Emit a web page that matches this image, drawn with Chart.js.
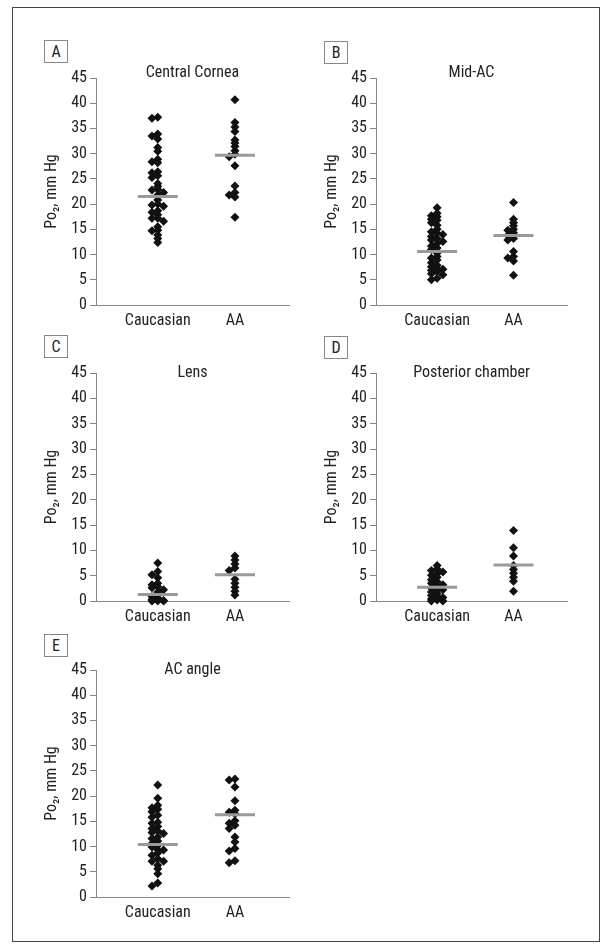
<!DOCTYPE html>
<html>
<head>
<meta charset="utf-8">
<script src="https://cdn.jsdelivr.net/npm/chart.js@4.4.0/dist/chart.umd.min.js"></script>
<style>
  body { margin:0; background:#fff; width:607px; height:950px; position:relative; overflow:hidden; }
  .frame { position:absolute; left:12px; top:7px; width:586px; height:933px; border:1.5px solid #444; }
  .panel { position:absolute; }
  .tag { position:absolute; width:22px; height:21px; border:1px solid #888; color:#222;
         font:16px 'Roboto Condensed',sans-serif; text-align:center; line-height:22px; }
</style>
</head>
<body>
<div class="frame"></div>

<div class="tag" style="left:44px;top:40px">A</div>
<div class="tag" style="left:324px;top:41px">B</div>
<div class="tag" style="left:44px;top:335px">C</div>
<div class="tag" style="left:324px;top:336px">D</div>
<div class="tag" style="left:44px;top:634px">E</div>

<canvas id="chartA" class="panel" width="296" height="287" style="left:16px;top:53px"></canvas>
<canvas id="chartB" class="panel" width="294" height="287" style="left:296px;top:53px"></canvas>
<canvas id="chartC" class="panel" width="296" height="288" style="left:16px;top:348px"></canvas>
<canvas id="chartD" class="panel" width="294" height="288" style="left:296px;top:348px"></canvas>
<canvas id="chartE" class="panel" width="296" height="287" style="left:16px;top:645px"></canvas>

<script>
const FONT = "'Roboto Condensed',sans-serif";
const TEXT = '#222';
const AXIS = '#888';

// groups on the x axis
const categories = ['Caucasian', 'AA'];
const yMax = 45;
const yStep = 5;

// Central Cornea
const caucA = [37.2, 37.0, 33.9, 33.5, 32.9, 31.2, 30.5, 28.9, 28.4, 28.2, 26.4, 26.2, 25.6, 25.3, 24.1, 23.5, 22.9, 22.8,
               22.3, 21.8, 20.8, 20.0, 19.8, 19.6, 18.7, 18.4, 17.9, 17.2, 17.2, 16.6, 15.5, 14.8, 14.7, 13.9, 13.2, 12.4];
const aaA = [40.7, 36.2, 35.3, 34.4, 32.7, 32.1, 31.4, 30.6, 29.9, 29.4, 27.6, 23.6, 22.3, 21.8, 21.4, 17.4];
const meanA = [21.5, 29.7];

// Mid-AC
const caucB = [19.3, 18.2, 17.7, 17.5, 17.0, 16.8, 16.3, 15.8, 15.0, 14.5, 14.2, 14.0, 13.6, 13.2, 12.9, 12.6, 12.2, 11.7,
               11.3, 11.0, 10.3, 9.6, 9.3, 8.9, 8.4, 7.9, 7.6, 7.3, 7.1, 6.9, 6.6, 6.2, 6.0, 5.3, 5.0];
const aaB = [20.3, 17.0, 16.3, 15.7, 15.0, 14.8, 14.3, 13.8, 13.2, 12.9, 10.6, 9.6, 9.3, 8.7, 5.9];
const meanB = [10.6, 13.8];

// Lens
const caucC = [7.5, 5.8, 5.2, 4.6, 3.5, 3.2, 2.8, 2.6, 2.2, 1.8, 1.2, 0.9, 0.6, 0.3, 0.1, 0, 0, 0];
const aaC = [8.9, 8.1, 7.3, 6.5, 6.0, 4.3, 3.5, 2.7, 1.9, 1.2];
const meanC = [1.3, 5.2];

// Posterior chamber
const caucD = [7.0, 6.3, 6.0, 5.7, 5.4, 5.1, 4.7, 4.2, 3.8, 3.5, 3.2, 3.0, 2.5, 2.2, 2.2, 1.8, 1.5, 1.1, 0.9, 0.7, 0.4, 0.2, 0, 0];
const aaD = [13.9, 10.5, 8.9, 7.0, 6.2, 5.5, 4.7, 3.9, 1.9];
const meanD = [2.7, 7.1];

// AC angle
const caucE = [22.2, 19.6, 18.2, 17.7, 17.4, 16.9, 16.2, 15.8, 14.8, 14.6, 14.0, 13.6, 13.1, 12.8, 12.6, 11.9, 11.6,
               11.1, 10.6, 10.2, 9.9, 9.3, 9.3, 8.7, 8.3, 7.6, 7.1, 7.1, 6.3, 5.6, 4.6, 2.8, 2.2];
const aaE = [23.4, 23.2, 21.8, 19.1, 17.2, 16.8, 16.5, 15.1, 14.6, 14.2, 13.6, 11.9, 10.9, 9.6, 9.1, 7.2, 6.8];
const meanE = [10.4, 16.3];

// spread close values into 3 little columns so the diamonds don't sit on each other
function swarm(values, cat) {
    const placed = [];
    return values.slice().sort((a, b) => b - a).map(v => {
        let col = 0, bestGap = -1;
        for (const c of [0, -1, 1]) {
            const gap = placed.filter(p => p.c === c).reduce((m, p) => Math.min(m, Math.abs(p.v - v)), Infinity);
            if (gap >= 0.6) { col = c; break; }
            if (gap > bestGap) { bestGap = gap; col = c; }
        }
        placed.push({ v, c: col });
        return { x: cat + col * 0.075, y: v };
    });
}

const panelTitle = {
    id: 'panelTitle',
    afterDraw(chart, args, opts) {
        const { ctx, chartArea } = chart;
        ctx.save();
        ctx.font = '16px ' + FONT;
        ctx.fillStyle = TEXT;
        ctx.textAlign = 'center';
        ctx.textBaseline = 'middle';
        ctx.fillText(opts.text, (chartArea.left + chartArea.right) / 2, chartArea.top - opts.lift);
        ctx.restore();
    }
};

function makePanel(id, title, lift, cauc, aa, means) {
    const font = { family: FONT, size: 16 };
    new Chart(document.getElementById(id), {
        type: 'scatter',
        data: {
            datasets: [
                {   // group mean bars
                    data: categories.map((c, i) => ({ x: i + 1, y: means[i] })),
                    pointStyle: 'line', pointRadius: 20,
                    pointBorderColor: '#9a9a9a', pointBorderWidth: 3,
                    order: 0, clip: false
                },
                {
                    data: [...swarm(cauc, 1), ...swarm(aa, 2)],
                    pointStyle: 'rectRot', pointRadius: 4.5,
                    pointBackgroundColor: '#111', pointBorderColor: '#111', pointBorderWidth: 0,
                    order: 1, clip: false
                }
            ]
        },
        options: {
            responsive: false,
            animation: false,
            events: [],
            layout: { padding: { left: 0, right: 5, top: 25, bottom: 0 } },
            plugins: {
                legend: { display: false },
                tooltip: { enabled: false },
                panelTitle: { text: title, lift: lift }
            },
            scales: {
                x: {
                    type: 'linear', min: 0.2, max: 2.7,
                    afterBuildTicks: s => { s.ticks = categories.map((c, i) => ({ value: i + 1 })); },
                    afterFit: s => { s.height = 35; },
                    ticks: {
                        callback: v => categories[Math.round(v) - 1],
                        font, color: TEXT, padding: 6, autoSkip: false, maxRotation: 0
                    },
                    grid: { display: false, drawTicks: false },
                    border: { color: AXIS }
                },
                y: {
                    min: 0, max: yMax,
                    afterFit: s => { s.width = 80; },
                    ticks: { stepSize: yStep, font, color: TEXT, padding: 3 },
                    grid: { drawOnChartArea: false, tickLength: 6, color: AXIS },
                    border: { color: AXIS },
                    title: { display: true, text: 'Po₂, mm Hg', font, color: TEXT, padding: { top: 26, bottom: 0 } }
                }
            }
        },
        plugins: [panelTitle]
    });
}

makePanel('chartA', 'Central Cornea', 5, caucA, aaA, meanA);
makePanel('chartB', 'Mid-AC', 5, caucB, aaB, meanB);
makePanel('chartC', 'Lens', 0, caucC, aaC, meanC);
makePanel('chartD', 'Posterior chamber', 0, caucD, aaD, meanD);
makePanel('chartE', 'AC angle', 0, caucE, aaE, meanE);
</script>
</body>
</html>
